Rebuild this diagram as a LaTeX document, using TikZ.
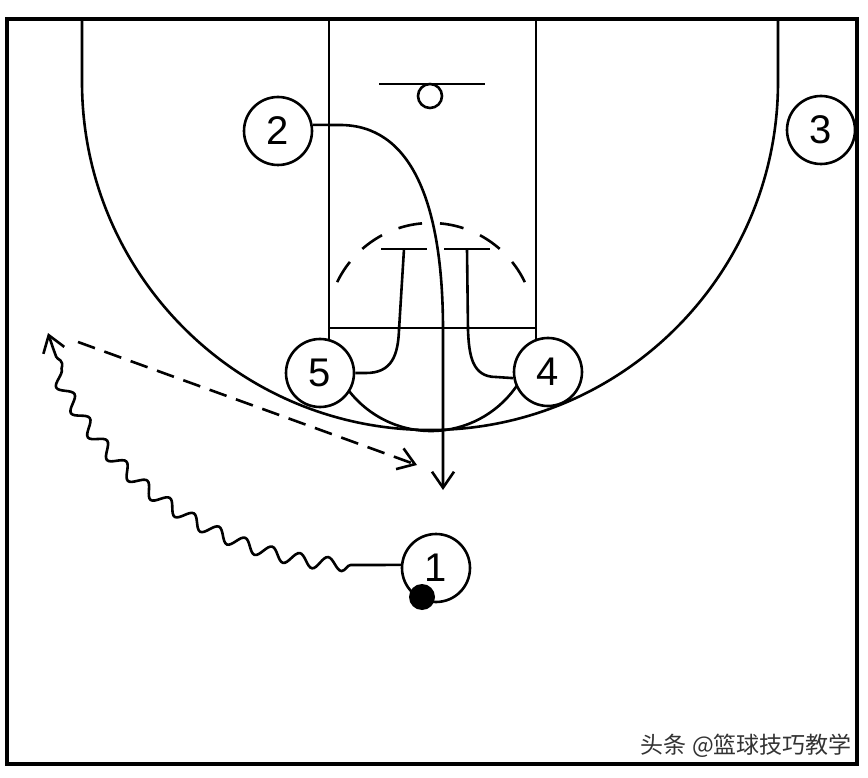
\documentclass[tikz,border=0pt]{standalone}
\usepackage{fontspec}
\setmainfont{Liberation Sans}
\newfontfamily\cjk{Noto Sans CJK SC}
\usetikzlibrary{arrows.meta,decorations.pathmorphing}
\begin{document}
\begin{tikzpicture}[x=1pt,y=1pt,
  court/.style={line width=2.6pt, black},
  player/.style={circle, draw, line width=2.6pt, fill=white, minimum size=68pt, inner sep=0pt, font=\fontsize{40}{42}\selectfont},
  move/.style={line width=2.6pt, black},
  tip/.style={-{Straight Barb[length=16pt,width=22pt]}},
  ftdash/.style={dash pattern=on 24pt off 18pt, dash phase=33pt}
]
\useasboundingbox[fill=white] (0,0) rectangle (868,-778);
% court
\draw[line width=3.2pt] (7,-19) rectangle (857,-764);
\draw[court] (82,-19) -- (82,-82) arc[start angle=180,end angle=360,radius=348pt] -- (778,-19);
\draw[court] (329,-19) -- (329,-345);
\draw[court] (536,-19) -- (536,-345);
\draw[court] (329,-328) -- (536,-328);
\draw[court] (379,-84) -- (485,-84);
\draw[court] (430,-96) circle[radius=12pt];
\draw[court, ftdash] (431,-223) arc[start angle=90, end angle=155, radius=104pt];
\draw[court, ftdash] (431,-223) arc[start angle=90, end angle=25, radius=104pt];
\draw[court] (431,-327) ++(-145:104pt) arc[start angle=-145, end angle=-33, radius=104pt];
% players
\node[player] (p2) at (278,-131) {2};
\node[player] (p3) at (821,-130) {3};
\node[player] (p5) at (320,-373) {5};
\node[player] (p4) at (548,-372) {4};
\node[player] (p1) at (436,-568) {1};
\node[circle, fill=black, minimum size=26pt, inner sep=0pt] (ball) at (422,-597) {};
% coordinates
\coordinate (scr5) at (404,-249);
\coordinate (scr4) at (467,-249);
\coordinate (cutend) at (443,-490);
\coordinate (passA) at (78,-342);
\coordinate (passB) at (417,-465);
\coordinate (dribEnd) at (48,-333);
% screens
\draw[move] (p5.east) -- (366,-373) .. controls (392,-373) and (398,-355) .. (399,-330) -- (scr5);
\draw[move] ([xshift=-23pt]scr5) -- ([xshift=23pt]scr5);
\draw[move] (p4.190) -- (496,-377) .. controls (472,-377) and (469,-355) .. (468,-330) -- (scr4);
\draw[move] ([xshift=-23pt]scr4) -- ([xshift=23pt]scr4);
% cut of 2
\draw[move, tip] (p2.10) -- (340,-125) .. controls (410,-125) and (443,-200) .. (443,-330) -- (cutend);
% pass
\draw[move, tip, dash pattern=on 18pt off 10pt] (passA) -- (passB);
% dribble
\draw[move, tip, decorate, decoration={snake, amplitude=6.5pt, segment length=29pt, pre length=50pt, post length=16pt}]
  (p1.175) -- (352,-565) .. controls (220,-560) and (90,-470) .. (dribEnd);
% watermark
\node[anchor=east, font=\cjk\fontsize{23}{25}\selectfont, text=black!80, inner sep=0pt] (wm) at (852,-746) {头条 @篮球技巧教学};
\end{tikzpicture}
\end{document}
